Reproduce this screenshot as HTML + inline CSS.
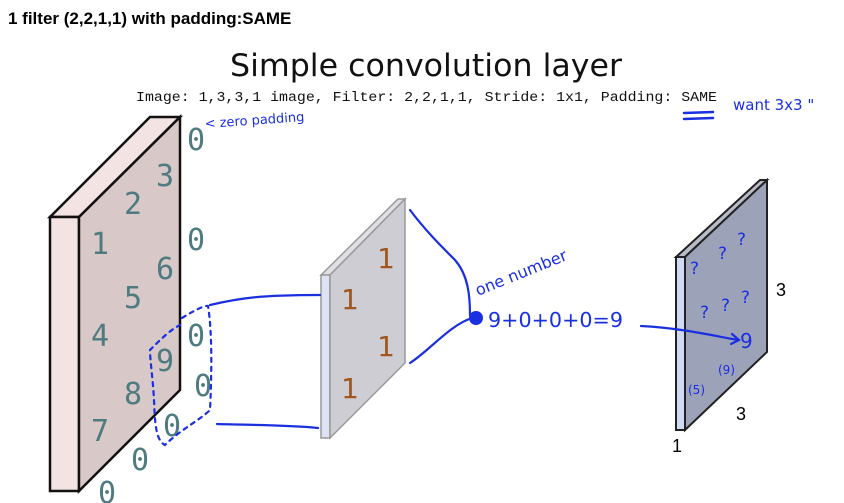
<!DOCTYPE html>
<html><head><style>
body{margin:0;background:#fff;width:844px;height:503px;overflow:hidden}
svg{display:block}
</style></head><body>
<svg width="844" height="503" viewBox="0 0 844 503" xmlns="http://www.w3.org/2000/svg">
<text x="8" y="24" font-family="Liberation Sans, sans-serif" font-weight="bold" font-size="17" fill="#000">1 filter (2,2,1,1) with padding:SAME</text>
<text x="426" y="76" text-anchor="middle" font-family="DejaVu Sans, sans-serif" font-size="31" fill="#111" textLength="392" lengthAdjust="spacingAndGlyphs">Simple convolution layer</text>
<text x="136" y="101" font-family="Liberation Mono, monospace" font-size="13.5" fill="#111" textLength="581" lengthAdjust="spacingAndGlyphs">Image: 1,3,3,1 image, Filter: 2,2,1,1, Stride: 1x1, Padding: SAME</text>
<polygon points="50,217 150,117 180,117 79,217" fill="#f3e3e3" stroke="#111" stroke-width="2.5"/>
<rect x="50" y="217" width="29" height="274" fill="#f3e3e3" stroke="#111" stroke-width="2.5"/>
<polygon points="79,217 180,117 180,390 79,491" fill="#d8c8c8" stroke="#111" stroke-width="2.5"/>
<g font-family="DejaVu Sans Mono, Liberation Mono, monospace" font-size="30" fill="#4f7b80" text-anchor="middle">
<text x="165" y="186">3</text><text x="133" y="214">2</text><text x="100" y="254">1</text>
<text x="165" y="279">6</text><text x="133" y="308">5</text><text x="100" y="346">4</text>
<text x="165" y="371">9</text><text x="133" y="404">8</text><text x="100" y="441">7</text>
<text x="196" y="150">0</text><text x="196" y="250">0</text><text x="196" y="346">0</text>
<text x="203" y="396">0</text><text x="172" y="436">0</text><text x="140" y="470">0</text><text x="107" y="503">0</text>
</g>
<polygon points="321,275 398,199 405,199 330,275" fill="#e0e0e4" stroke="#999" stroke-width="1.5"/>
<rect x="321" y="275" width="9" height="163" fill="#dde3f5" stroke="#999" stroke-width="1.5"/>
<polygon points="330,275 405,199 405,363 330,438" fill="#cdcdd3" stroke="#999" stroke-width="1.5"/>
<g font-family="DejaVu Sans, sans-serif" font-size="28" fill="#a0561c" text-anchor="middle">
<text x="386" y="268">1</text><text x="350" y="309">1</text><text x="386" y="356">1</text><text x="350" y="398">1</text>
</g>
<polygon points="676,257 760,180 767,180 685,257" fill="#b8bcc8" stroke="#222" stroke-width="2"/>
<rect x="676" y="257" width="9" height="173" fill="#d0daf2" stroke="#222" stroke-width="2"/>
<polygon points="685,257 767,180 767,352 685,430" fill="#9ca2b8" stroke="#222" stroke-width="2"/>
<g font-family="Liberation Sans, sans-serif" font-size="18" fill="#000">
<text x="776" y="296">3</text><text x="736" y="420">3</text><text x="672" y="452">1</text>
</g>
<g stroke="#1a2fe0" fill="none" stroke-width="2.2" stroke-linecap="round">
<path d="M210,305 C240,298 260,295 320,295"/>
<path d="M217,424 C250,425 290,425 318,428"/>
<path d="M410,210 C425,230 440,245 455,260 C468,275 470,295 470,315"/>
<path d="M410,363 C430,350 450,325 472,318"/>
<path d="M641,326 C680,328 710,335 738,340"/>
<path d="M732,334 L739,340 L731,344"/>
<path d="M182,318 C195,310 205,305 208,306 C212,330 212,370 210,410 C200,420 180,430 165,445 C155,440 155,420 154,400 C153,380 150,360 150,350 C160,340 170,330 180,325" stroke-dasharray="4,5"/>
<path d="M684,113 L713,112 M684,119 L713,118" stroke-width="2.5"/>
</g>
<circle cx="476" cy="318" r="7" fill="#1a2fe0"/>
<g font-family="DejaVu Sans, sans-serif" fill="#1a2fe0">
<text x="488" y="327" font-size="20" textLength="135" lengthAdjust="spacingAndGlyphs">9+0+0+0=9</text>
<text x="478" y="296" font-size="16" transform="rotate(-22 478 296)">one number</text>
<text x="205" y="128" font-size="13" transform="rotate(-4 205 128)">&lt; zero padding</text>
<text x="733" y="110" font-size="15">want 3x3 "</text>
<g font-size="17"><text x="690" y="274">?</text><text x="718" y="259">?</text><text x="737" y="245">?</text>
<text x="700" y="318">?</text><text x="721" y="311">?</text><text x="741" y="303">?</text>
<text x="740" y="348" font-size="20">9</text><text x="718" y="374" font-size="12">(9)</text><text x="688" y="394" font-size="12">(5)</text></g>
</g>
</svg>
</body></html>
